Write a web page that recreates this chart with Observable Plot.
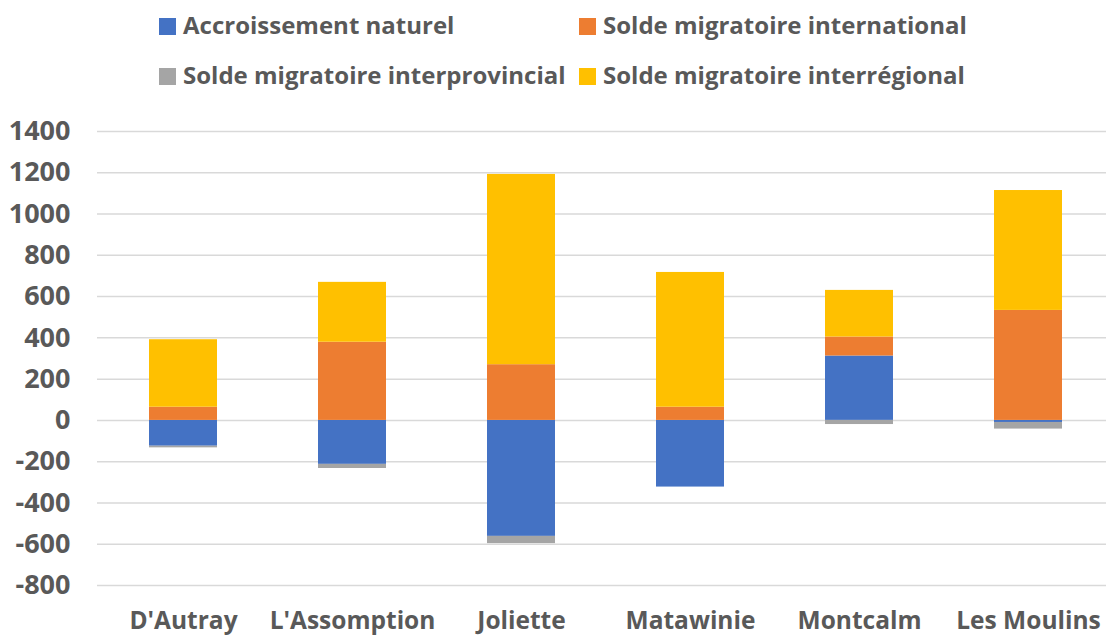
<!DOCTYPE html>
<html><head><meta charset="utf-8">
<script src="https://cdn.jsdelivr.net/npm/d3@7"></script>
<script src="https://cdn.jsdelivr.net/npm/@observablehq/plot@0.6"></script>
<style>
body{margin:0;background:#fff;}
#wrap{position:relative;width:1106px;height:635px;overflow:hidden;}
.lg{position:absolute;font-family:"Open Sans",sans-serif;font-weight:700;font-size:24px;color:#595959;white-space:nowrap;line-height:24px;}
.sw{position:absolute;width:17px;height:17px;}
#chart{position:absolute;left:0;top:0;}
</style></head>
<body><div id="wrap"><div id="chart"></div></div>
<script>
const regions = ["D'Autray","L'Assomption","Joliette","Matawinie","Montcalm","Les Moulins"];
const seriesNames = ["Accroissement naturel","Solde migratoire international","Solde migratoire interprovincial","Solde migratoire interrégional"];
const colors = ["#4472C4","#ED7D31","#A5A5A5","#FFC000"];
const accroissement = [-125, -213, -562, -323, 312, -10];
const international = [64, 379, 270, 64, 92, 533];
const interprovincial = [-8, -20, -35, 0, -20, -32];
const interregional = [327, 290, 922, 653, 226, 581];
const yTicks = [-800,-600,-400,-200,0,200,400,600,800,1000,1200,1400];

const valuesBySeries = [accroissement, international, interprovincial, interregional];
const data = [];
seriesNames.forEach((s, i) => regions.forEach((r, j) => data.push({region: r, series: s, value: valuesBySeries[i][j]})));

const plot = Plot.plot({
  width: 1106, height: 635,
  marginLeft: 97, marginRight: 0, marginTop: 131, marginBottom: 50,
  style: {fontFamily: "'Open Sans', sans-serif", background: "white"},
  x: {domain: regions, range: [97, 1114], paddingInner: 0.6, paddingOuter: 0.3, label: null},
  y: {domain: [-800, 1400], ticks: yTicks, label: null},
  color: {domain: seriesNames, range: colors},
  marks: [
    Plot.ruleY(yTicks, {stroke: "#d9d9d9", strokeWidth: 1.5}),
    Plot.barY(data, {x: "region", y: "value", fill: "series", order: seriesNames}),
    Plot.axisY({ticks: yTicks, tickFormat: d => String(d), tickSize: 0, tickPadding: 27, fontSize: 27, fontWeight: 700, fill: "#595959", label: null}),
    Plot.axisX({tickSize: 0, tickPadding: 26, fontSize: 24.5, fontWeight: 700, fill: "#595959", label: null})
  ]
});
document.getElementById("chart").appendChild(plot);

const legendPos = [[159, 18], [579, 18], [159, 68], [579, 68]];
const wrap = document.getElementById("wrap");
seriesNames.forEach((s, i) => {
  const sw = document.createElement("div");
  sw.className = "sw";
  sw.style.left = legendPos[i][0] + "px";
  sw.style.top = legendPos[i][1] + "px";
  sw.style.background = colors[i];
  wrap.appendChild(sw);
  const t = document.createElement("div");
  t.className = "lg";
  t.style.left = (legendPos[i][0] + 24) + "px";
  t.style.top = (legendPos[i][1] - 5.3) + "px";
  t.textContent = s;
  wrap.appendChild(t);
});
</script></body></html>
